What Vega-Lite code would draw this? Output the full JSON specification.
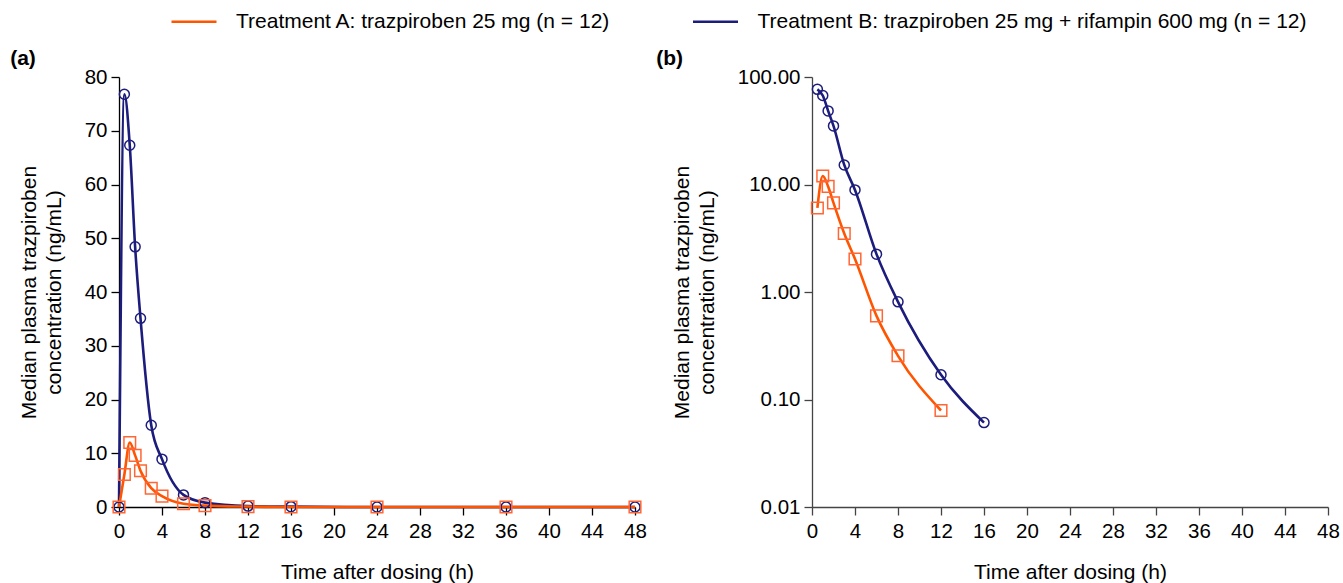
{
  "$schema": "https://vega.github.io/schema/vega-lite/v6.json",
  "padding": {"left": 10, "top": 10, "right": 5, "bottom": 0},
  "background": "white",
  "config": {
    "font": "Liberation Sans",
    "view": {"stroke": null},
    "axis": {
      "grid": false,
      "domainColor": "#000",
      "tickColor": "#000",
      "labelColor": "#000",
      "titleColor": "#000",
      "labelFont": "Liberation Sans",
      "titleFont": "Liberation Sans",
      "labelFontSize": 20.5,
      "titleFontSize": 21,
      "titleFontWeight": "normal",
      "domainWidth": 1.3,
      "tickWidth": 1.3,
      "tickSize": 8,
      "labelPadding": 4,
      "labelFlush": false
    },
    "axisX": {"labelPadding": 6, "titlePadding": 20},
    "axisY": {"titlePadding": 20, "titleLineHeight": 25},
    "title": {"font": "Liberation Sans", "fontSize": 21, "fontWeight": "bold", "color": "#000", "anchor": "start", "frame": "bounds"}
  },
  "data": {
    "values": [
      {"treatment": "Treatment B: trazpiroben 25 mg + rifampin 600 mg (n = 12)", "time": 0, "conc": 0},
      {"treatment": "Treatment B: trazpiroben 25 mg + rifampin 600 mg (n = 12)", "time": 0.5, "conc": 76.8},
      {"treatment": "Treatment B: trazpiroben 25 mg + rifampin 600 mg (n = 12)", "time": 1, "conc": 67.3},
      {"treatment": "Treatment B: trazpiroben 25 mg + rifampin 600 mg (n = 12)", "time": 1.5, "conc": 48.4},
      {"treatment": "Treatment B: trazpiroben 25 mg + rifampin 600 mg (n = 12)", "time": 2, "conc": 35.1},
      {"treatment": "Treatment B: trazpiroben 25 mg + rifampin 600 mg (n = 12)", "time": 3, "conc": 15.2},
      {"treatment": "Treatment B: trazpiroben 25 mg + rifampin 600 mg (n = 12)", "time": 4, "conc": 8.9},
      {"treatment": "Treatment B: trazpiroben 25 mg + rifampin 600 mg (n = 12)", "time": 6, "conc": 2.25},
      {"treatment": "Treatment B: trazpiroben 25 mg + rifampin 600 mg (n = 12)", "time": 8, "conc": 0.81},
      {"treatment": "Treatment B: trazpiroben 25 mg + rifampin 600 mg (n = 12)", "time": 12, "conc": 0.17},
      {"treatment": "Treatment B: trazpiroben 25 mg + rifampin 600 mg (n = 12)", "time": 16, "conc": 0.061},
      {"treatment": "Treatment B: trazpiroben 25 mg + rifampin 600 mg (n = 12)", "time": 24, "conc": 0},
      {"treatment": "Treatment B: trazpiroben 25 mg + rifampin 600 mg (n = 12)", "time": 36, "conc": 0},
      {"treatment": "Treatment B: trazpiroben 25 mg + rifampin 600 mg (n = 12)", "time": 48, "conc": 0},
      {"treatment": "Treatment A: trazpiroben 25 mg (n = 12)", "time": 0, "conc": 0},
      {"treatment": "Treatment A: trazpiroben 25 mg (n = 12)", "time": 0.5, "conc": 6.05},
      {"treatment": "Treatment A: trazpiroben 25 mg (n = 12)", "time": 1, "conc": 12.0},
      {"treatment": "Treatment A: trazpiroben 25 mg (n = 12)", "time": 1.5, "conc": 9.6},
      {"treatment": "Treatment A: trazpiroben 25 mg (n = 12)", "time": 2, "conc": 6.75},
      {"treatment": "Treatment A: trazpiroben 25 mg (n = 12)", "time": 3, "conc": 3.5},
      {"treatment": "Treatment A: trazpiroben 25 mg (n = 12)", "time": 4, "conc": 2.03},
      {"treatment": "Treatment A: trazpiroben 25 mg (n = 12)", "time": 6, "conc": 0.6},
      {"treatment": "Treatment A: trazpiroben 25 mg (n = 12)", "time": 8, "conc": 0.255},
      {"treatment": "Treatment A: trazpiroben 25 mg (n = 12)", "time": 12, "conc": 0.079},
      {"treatment": "Treatment A: trazpiroben 25 mg (n = 12)", "time": 16, "conc": 0},
      {"treatment": "Treatment A: trazpiroben 25 mg (n = 12)", "time": 24, "conc": 0},
      {"treatment": "Treatment A: trazpiroben 25 mg (n = 12)", "time": 36, "conc": 0},
      {"treatment": "Treatment A: trazpiroben 25 mg (n = 12)", "time": 48, "conc": 0}
    ]
  },
  "spacing": 9,
  "hconcat": [
    {
      "width": 516,
      "height": 430,
      "title": {"text": "(a)", "dx": -8, "offset": -2},
      "layer": [
        {
          "mark": {"type": "line", "strokeWidth": 2.6, "interpolate": "monotone"},
          "encoding": {
            "x": {"field": "time", "type": "quantitative", "scale": {"domain": [0, 48], "nice": false}, "axis": {"values": [0, 4, 8, 12, 16, 20, 24, 28, 32, 36, 40, 44, 48], "title": "Time after dosing (h)"}},
            "y": {"field": "conc", "type": "quantitative", "scale": {"domain": [0, 80], "nice": false}, "axis": {"values": [0, 10, 20, 30, 40, 50, 60, 70, 80], "title": ["Median plasma trazpiroben", "concentration (ng/mL)"]}},
            "color": {
              "field": "treatment", "type": "nominal",
              "scale": {"domain": ["Treatment A: trazpiroben 25 mg (n = 12)", "Treatment B: trazpiroben 25 mg + rifampin 600 mg (n = 12)"], "range": ["#FF5500", "#1C1C7C"]},
              "legend": {
                "title": null,
                "orient": "none",
                "legendX": 63.5,
                "legendY": -67,
                "direction": "horizontal",
                "labelFont": "Liberation Sans",
                "labelFontSize": 21,
                "labelColor": "#000",
                "labelLimit": 1000,
                "symbolType": "M-2.25,0H2.25",
                "symbolSize": 400,
                "symbolStrokeWidth": 2.5,
                "labelOffset": 30.5,
                "columnPadding": 77.5,
                "padding": 0
              }
            }
          }
        },
        {
          "mark": {"type": "point", "filled": false, "strokeWidth": 1.5, "opacity": 1},
          "encoding": {
            "x": {"field": "time", "type": "quantitative"},
            "y": {"field": "conc", "type": "quantitative"},
            "shape": {"condition": {"test": "datum.treatment == 'Treatment A: trazpiroben 25 mg (n = 12)'", "value": "square"}, "value": "circle"},
            "stroke": {"condition": {"test": "datum.treatment == 'Treatment A: trazpiroben 25 mg (n = 12)'", "value": "#FF6633"}, "value": "#1C1C7C"},
            "size": {"condition": {"test": "datum.treatment == 'Treatment A: trazpiroben 25 mg (n = 12)'", "value": 135}, "value": 100}
          }
        }
      ]
    },
    {
      "width": 516,
      "height": 430,
      "title": {"text": "(b)", "dx": -15, "offset": -2},
      "transform": [{"filter": "datum.conc > 0"}],
      "layer": [
        {
          "mark": {"type": "line", "strokeWidth": 2.6, "interpolate": "monotone"},
          "encoding": {
            "x": {"field": "time", "type": "quantitative", "scale": {"domain": [0, 48], "nice": false}, "axis": {"values": [0, 4, 8, 12, 16, 20, 24, 28, 32, 36, 40, 44, 48], "title": "Time after dosing (h)", "domainColor": "#444", "tickColor": "#444"}},
            "y": {"field": "conc", "type": "quantitative", "scale": {"type": "log", "domain": [0.01, 100], "nice": false}, "axis": {"values": [0.01, 0.1, 1, 10, 100], "format": ".2f", "title": ["Median plasma trazpiroben", "concentration (ng/mL)"], "domainColor": "#444", "tickColor": "#444"}},
            "color": {"field": "treatment", "type": "nominal", "scale": {"domain": ["Treatment A: trazpiroben 25 mg (n = 12)", "Treatment B: trazpiroben 25 mg + rifampin 600 mg (n = 12)"], "range": ["#FF5500", "#1C1C7C"]}}
          }
        },
        {
          "mark": {"type": "point", "filled": false, "strokeWidth": 1.5, "opacity": 1},
          "encoding": {
            "x": {"field": "time", "type": "quantitative"},
            "y": {"field": "conc", "type": "quantitative"},
            "shape": {"condition": {"test": "datum.treatment == 'Treatment A: trazpiroben 25 mg (n = 12)'", "value": "square"}, "value": "circle"},
            "stroke": {"condition": {"test": "datum.treatment == 'Treatment A: trazpiroben 25 mg (n = 12)'", "value": "#FF6633"}, "value": "#1C1C7C"},
            "size": {"condition": {"test": "datum.treatment == 'Treatment A: trazpiroben 25 mg (n = 12)'", "value": 135}, "value": 100}
          }
        }
      ]
    }
  ]
}
